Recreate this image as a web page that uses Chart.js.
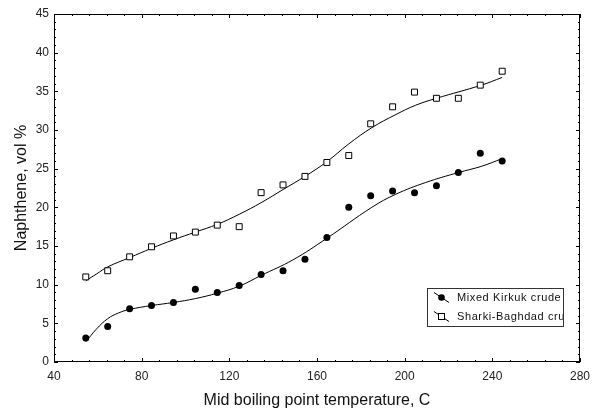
<!doctype html>
<html lang="en">
<head>
    <meta charset="utf-8">
    <style>
        html, body { margin: 0; padding: 0; background: #fff; }
        #wrap { width: 597px; height: 410px; }
    </style>
    <script src="https://cdn.jsdelivr.net/npm/chart.js@4/dist/chart.umd.min.js"></script>
</head>
<body>
    <div id="wrap"><canvas id="myChart" width="597" height="410"></canvas></div>

    <script>
        // measured points (mid boiling point, C)
        const tempC = [54.5, 64.5, 74.5, 84.5, 94.5, 104.5, 114.5, 124.5, 134.5, 144.5,
                       154.5, 164.5, 174.5, 184.5, 194.5, 204.5, 214.5, 224.5, 234.5, 244.5];
        const kirkuk = [3.1, 4.6, 6.9, 7.3, 7.7, 9.4, 9.0, 9.9, 11.3, 11.8,
                        13.3, 16.1, 20.0, 21.5, 22.1, 21.9, 22.8, 24.5, 27.0, 26.0];
        const sharki = [11.0, 11.8, 13.6, 14.9, 16.3, 16.8, 17.7, 17.5, 21.9, 22.9,
                        24.0, 25.8, 26.7, 30.8, 33.0, 34.9, 34.1, 34.1, 35.8, 37.6];

        // fitted curves
        const kirkukFitX = [54.5, 59.5, 64.5, 69.5, 74.5, 84.5, 94.5, 104.5, 114.5, 124.5, 134.5, 149, 164.5, 185, 196, 209.5, 224.5, 235, 244.5];
        const kirkukFitY = [2.6, 4.3, 5.6, 6.35, 6.8, 7.3, 7.7, 8.2, 8.9, 9.8, 11.2, 13.2, 16.0, 20.0, 21.7, 23.2, 24.5, 25.3, 26.3];
        const sharkiFitX = [54.5, 59.5, 64.5, 74.5, 84.5, 94.5, 104.5, 114.5, 124.5, 134.5, 144.5, 154.5, 164.5, 174.5, 185, 196, 205, 214.5, 235, 244.5];
        const sharkiFitY = [10.5, 11.4, 12.3, 13.5, 14.7, 15.8, 16.8, 17.8, 19.1, 20.6, 22.3, 24.0, 25.9, 28.2, 30.3, 32.0, 33.2, 34.1, 35.8, 36.8];

        const seriesNames = ['Mixed Kirkuk crude', 'Sharki-Baghdad crude'];
        const xTicks = [40, 80, 120, 160, 200, 240, 280];
        const yTicks = [0, 5, 10, 15, 20, 25, 30, 35, 40, 45];

        const pts = (xs, ys) => xs.map((x, i) => ({ x: x, y: ys[i] }));
        const FONT = "'Liberation Sans', Arial, sans-serif";

        // frame with inward ticks on all four sides + boxed legend
        const frameTicks = {
            id: 'frameTicks',
            afterDraw(chart) {
                const ctx = chart.ctx;
                const a = chart.chartArea;
                const xs = chart.scales.x, ys = chart.scales.y;
                ctx.save();
                ctx.strokeStyle = '#000';
                ctx.lineWidth = 1;
                ctx.strokeRect(Math.round(a.left) + 0.5, Math.round(a.top) + 0.5,
                    Math.round(a.right - a.left) - 1, Math.round(a.bottom - a.top) - 1);
                ctx.beginPath();
                for (let v = 40; v <= 280; v += 8) {
                    const p = Math.round(xs.getPixelForValue(v)) + 0.5;
                    const len = (v - 40) % 40 === 0 ? 4 : 2;
                    ctx.moveTo(p, a.bottom); ctx.lineTo(p, a.bottom - len);
                    ctx.moveTo(p, a.top); ctx.lineTo(p, a.top + len);
                }
                for (let v = 0; v <= 45; v += 1) {
                    const p = Math.round(ys.getPixelForValue(v)) + 0.5;
                    const len = v % 5 === 0 ? 4 : 2;
                    ctx.moveTo(a.left, p); ctx.lineTo(a.left + len, p);
                    ctx.moveTo(a.right, p); ctx.lineTo(a.right - len, p);
                }
                ctx.stroke();

                // legend box
                const bx = 427, by = 288, bw = 136, bh = 38;
                ctx.fillStyle = '#fff';
                ctx.fillRect(bx, by, bw, bh);
                ctx.strokeStyle = '#333';
                ctx.strokeRect(bx + 0.5, by + 0.5, bw, bh);
                ctx.beginPath();
                ctx.rect(bx + 1, by + 1, bw - 1, bh - 1);
                ctx.clip();
                ctx.font = '11px ' + FONT;
                ctx.letterSpacing = '0.6px';
                ctx.textBaseline = 'middle';
                seriesNames.forEach((name, i) => {
                    const cy = by + 9.5 + i * 19;
                    const mx = bx + 14.5;
                    ctx.strokeStyle = '#000';
                    ctx.lineWidth = 1;
                    ctx.beginPath();
                    ctx.moveTo(bx + 7, cy - 5); ctx.lineTo(bx + 22, cy + 5);
                    ctx.stroke();
                    if (i === 0) {
                        ctx.fillStyle = '#000';
                        ctx.beginPath();
                        ctx.arc(mx, cy, 3.3, 0, Math.PI * 2);
                        ctx.fill();
                    } else {
                        ctx.fillStyle = '#fff';
                        ctx.fillRect(mx - 3, cy - 3, 6, 6);
                        ctx.strokeRect(mx - 3, cy - 3, 6, 6);
                    }
                    ctx.fillStyle = '#111';
                    ctx.fillText(name, bx + 30, cy);
                });
                ctx.restore();
            }
        };

        const ctx = document.getElementById('myChart');
        const myChart = new Chart(ctx, {
            type: 'scatter',
            data: {
                datasets: [{
                    label: seriesNames[0],
                    data: pts(tempC, kirkuk),
                    pointStyle: 'circle',
                    pointRadius: 3.5,
                    backgroundColor: '#000',
                    borderColor: '#000',
                    borderWidth: 0
                }, {
                    label: seriesNames[1],
                    data: pts(tempC, sharki),
                    pointStyle: 'rect',
                    pointRadius: 4.2,
                    backgroundColor: '#fff',
                    borderColor: '#000',
                    borderWidth: 1
                }, {
                    label: 'fit1',
                    data: pts(kirkukFitX, kirkukFitY),
                    showLine: true,
                    pointRadius: 0,
                    borderColor: '#000',
                    borderWidth: 1,
                    tension: 0.4
                }, {
                    label: 'fit2',
                    data: pts(sharkiFitX, sharkiFitY),
                    showLine: true,
                    pointRadius: 0,
                    borderColor: '#000',
                    borderWidth: 1,
                    tension: 0.4
                }]
            },
            options: {
                responsive: false,
                animation: false,
                layout: { padding: { top: 14, right: 15, left: 0, bottom: 0 } },
                plugins: { legend: { display: false }, tooltip: { enabled: false } },
                scales: {
                    x: {
                        type: 'linear', min: 40, max: 280,
                        afterBuildTicks: s => { s.ticks = xTicks.map(v => ({ value: v })); },
                        afterFit: s => { s.height = 48; },
                        grid: { display: false, drawTicks: false },
                        border: { display: false },
                        ticks: { padding: 7, color: '#222', font: { family: FONT, size: 12 } },
                        title: {
                            display: true, text: 'Mid boiling point temperature, C',
                            color: '#111', font: { family: FONT, size: 16 },
                            padding: { top: 2, bottom: 0 }
                        }
                    },
                    y: {
                        type: 'linear', min: 0, max: 45,
                        afterBuildTicks: s => { s.ticks = yTicks.map(v => ({ value: v })); },
                        afterFit: s => { s.width = 54; },
                        grid: { display: false, drawTicks: false },
                        border: { display: false },
                        ticks: { padding: 5, color: '#222', font: { family: FONT, size: 12 } },
                        title: {
                            display: true, text: 'Naphthene, vol %',
                            color: '#111', font: { family: FONT, size: 16 },
                            padding: { top: 12, bottom: 0 }
                        }
                    }
                }
            },
            plugins: [frameTicks]
        });
    </script>
</body>
</html>
